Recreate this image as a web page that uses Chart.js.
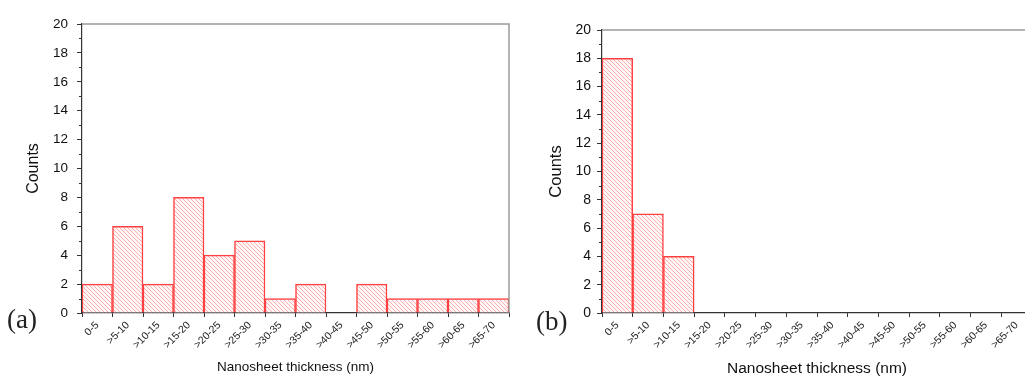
<!DOCTYPE html>
<html>
<head>
<meta charset="utf-8">
<script src="https://cdn.jsdelivr.net/npm/chart.js@4.4.1/dist/chart.umd.min.js"></script>
<style>
  html, body { margin: 0; padding: 0; background: #ffffff; width: 1025px; height: 378px; overflow: hidden; position: relative; }
  .panel { position: absolute; top: 0; height: 378px; }
  #pa { left: 0; width: 520px; }
  #pb { left: 530px; width: 510px; }
  .tag { position: absolute; font-family: "Liberation Serif", "DejaVu Serif", serif; font-size: 27px; color: #222; line-height: 1; }
</style>
</head>
<body>
<div class="panel" id="pa"><canvas id="ca"></canvas></div>
<div class="panel" id="pb"><canvas id="cb"></canvas></div>
<div class="tag" style="left:7px; top:306px;">(a)</div>
<div class="tag" style="left:536px; top:308px;">(b)</div>
<script>
// ---- data ----
const categories = ['0-5', '>5-10', '>10-15', '>15-20', '>20-25', '>25-30', '>30-35',
                    '>35-40', '>40-45', '>45-50', '>50-55', '>55-60', '>60-65', '>65-70'];
const countsA = [2, 6, 2, 8, 4, 5, 1, 2, 0, 2, 1, 1, 1, 1];
const countsB = [18, 7, 4, 0, 0, 0, 0, 0, 0, 0, 0, 0, 0, 0];
const yMin = 0;
const yMax = 20;
const yStep = 2;
const xTitle = 'Nanosheet thickness (nm)';
const yTitle = 'Counts';

// ---- hatch pattern ----
function makeHatch() {
  const p = 4;
  const c = document.createElement('canvas');
  c.width = p; c.height = p;
  const g = c.getContext('2d');
  g.fillStyle = '#fff8f8';
  g.fillRect(0, 0, p, p);
  g.strokeStyle = 'rgba(255,110,110,0.55)';
  g.lineWidth = 1;
  g.beginPath();
  g.moveTo(-1, -1); g.lineTo(p + 1, p + 1);
  g.moveTo(-1, p - 1); g.lineTo(1, p + 1);
  g.moveTo(p - 1, -1); g.lineTo(p + 1, 1);
  g.stroke();
  return g.createPattern(c, 'repeat');
}
const hatch = makeHatch();

// frame + minor ticks plugin
const framePlugin = {
  id: 'frame',
  afterDraw(chart) {
    const { ctx, chartArea: a, scales: { y } } = chart;
    ctx.save();
    ctx.strokeStyle = '#9a9a9a';
    ctx.lineWidth = 1.5;
    ctx.beginPath();
    ctx.moveTo(a.left, a.top);
    ctx.lineTo(a.right, a.top);
    ctx.lineTo(a.right, a.bottom);
    ctx.stroke();
    // minor ticks
    ctx.strokeStyle = '#333';
    ctx.lineWidth = 1;
    ctx.beginPath();
    for (let v = yMin + yStep / 2; v < yMax; v += yStep) {
      const py = Math.round(y.getPixelForValue(v)) + 0.5;
      ctx.moveTo(a.left - 3, py);
      ctx.lineTo(a.left, py);
    }
    ctx.stroke();
    ctx.restore();
  }
};

function makeChart(id, values, cfg) {
  return new Chart(document.getElementById(id), {
    type: 'bar',
    data: {
      labels: categories,
      datasets: [{
        data: values,
        backgroundColor: hatch,
        borderColor: '#ff4040',
        borderWidth: 1.5,
        borderSkipped: 'start',
        categoryPercentage: 1,
        barPercentage: 1
      }]
    },
    options: {
      responsive: true,
      maintainAspectRatio: false,
      animation: false,
      events: [],
      layout: { padding: { left: 0, right: cfg.padRight, top: cfg.padTop, bottom: 0 } },
      plugins: { legend: { display: false }, tooltip: { enabled: false } },
      scales: {
        x: {
          type: 'category',
          offset: true,
          grid: { display: true, drawOnChartArea: false, drawTicks: true, tickLength: 4, color: '#333', offset: true },
          border: { display: true, color: '#333', width: 1.2 },
          ticks: {
            autoSkip: false, minRotation: 45, maxRotation: 45, padding: 2,
            font: { family: 'Arial, "Liberation Sans", sans-serif', size: 10.5 }, color: '#222'
          },
          title: {
            display: true, text: xTitle, color: '#111',
            font: { family: 'Arial, "Liberation Sans", sans-serif', size: cfg.xTitleSize },
            padding: { top: 0, bottom: cfg.xTitlePad }
          },
          afterFit(s) { s.height = 65; }
        },
        y: {
          min: yMin, max: yMax,
          ticks: {
            stepSize: yStep, padding: cfg.yTickPad, color: '#111',
            font: { family: 'Arial, "Liberation Sans", sans-serif', size: cfg.yTickSize }
          },
          grid: { display: true, drawOnChartArea: false, drawTicks: true, tickLength: 5, color: '#333' },
          border: { display: true, color: '#333', width: 1.2 },
          title: {
            display: true, text: yTitle, color: '#111',
            font: { family: 'Arial, "Liberation Sans", sans-serif', size: cfg.yTitleSize },
            padding: { top: cfg.yTitlePad, bottom: 0 }
          },
          afterFit(s) { s.width = cfg.yWidth; }
        }
      }
    },
    plugins: [framePlugin]
  });
}

makeChart('ca', countsA, { padRight: 11, padTop: 24, yWidth: 82, yTickPad: 9, yTickSize: 13.5,
  xTitleSize: 13.5, xTitlePad: 3, yTitleSize: 16, yTitlePad: 24 });
makeChart('cb', countsB, { padRight: 8, padTop: 30, yWidth: 72, yTickPad: 6, yTickSize: 14,
  xTitleSize: 15.5, xTitlePad: 0, yTitleSize: 16.5, yTitlePad: 17 });
</script>
</body>
</html>
